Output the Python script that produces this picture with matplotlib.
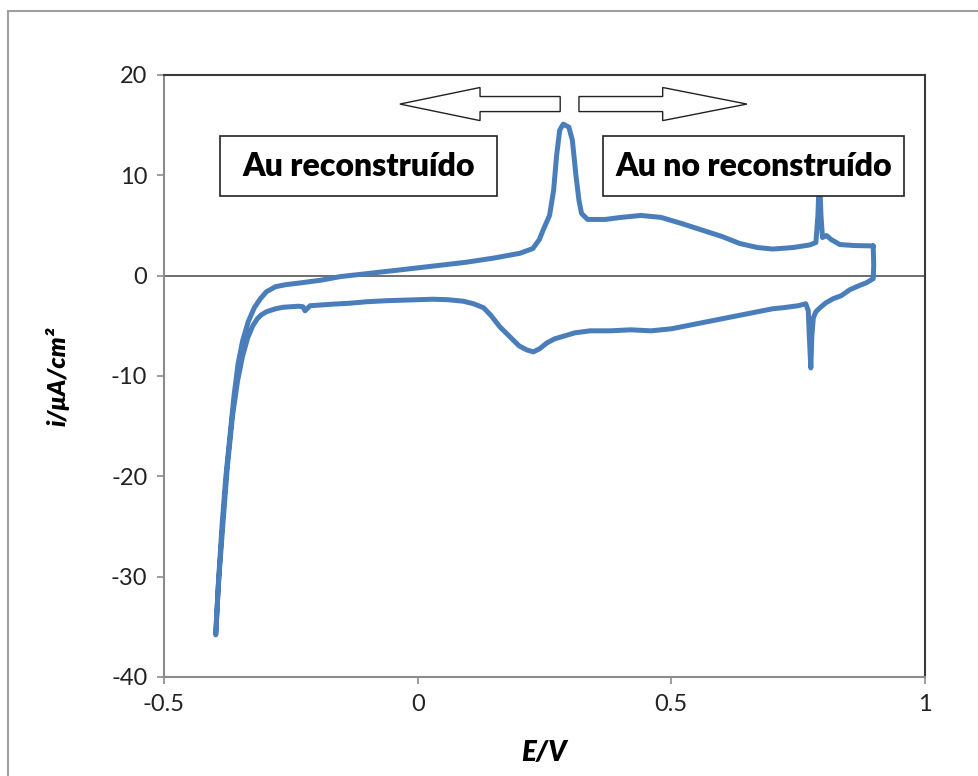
import matplotlib
matplotlib.use("Agg")
from matplotlib import pyplot as plt
from matplotlib.patches import FancyArrow, Rectangle
from matplotlib.lines import Line2D

# cathodic sweep, from the upper potential limit down to -0.4 V
e_cath = [0.898, 0.899, 0.898, 0.885, 0.87, 0.852, 0.835, 0.819, 0.805, 0.793,
          0.785, 0.780, 0.777, 0.775, 0.772, 0.770, 0.765, 0.75, 0.72, 0.70,
          0.66, 0.62, 0.58, 0.54, 0.50, 0.46, 0.42, 0.38, 0.34, 0.31,
          0.29, 0.27, 0.255, 0.24, 0.228, 0.215, 0.20, 0.18, 0.162, 0.145,
          0.13, 0.11, 0.09, 0.06, 0.03, 0.0, -0.03, -0.062, -0.10, -0.134,
          -0.17, -0.20, -0.212, -0.218, -0.222, -0.226, -0.235, -0.25, -0.265, -0.28,
          -0.298, -0.308, -0.316, -0.325, -0.335, -0.345, -0.355, -0.365, -0.375, -0.385,
          -0.393, -0.398]
i_cath = [2.96, 1.0, -0.3, -0.7, -1.0, -1.4, -2.0, -2.3, -2.7, -3.2,
          -3.6, -4.2, -6.0, -9.2, -6.0, -3.5, -2.8, -3.0, -3.2, -3.3,
          -3.7, -4.1, -4.5, -4.9, -5.3, -5.5, -5.4, -5.5, -5.5, -5.7,
          -6.0, -6.3, -6.7, -7.3, -7.6, -7.4, -7.0, -6.0, -5.1, -4.0,
          -3.2, -2.8, -2.55, -2.4, -2.35, -2.4, -2.45, -2.5, -2.6, -2.75,
          -2.85, -2.95, -3.0, -3.3, -3.5, -3.1, -3.05, -3.1, -3.15, -3.3,
          -3.6, -3.9, -4.3, -5.0, -6.2, -8.0, -10.5, -14.0, -19.0, -25.5,
          -31.0, -35.8]

# anodic sweep, back from -0.4 V to the upper limit
e_anod = [-0.398, -0.392, -0.385, -0.378, -0.371, -0.362, -0.354, -0.345, -0.334, -0.322,
          -0.31, -0.298, -0.28, -0.26, -0.232, -0.19, -0.153, -0.10, -0.035, 0.03,
          0.095, 0.15, 0.2017, 0.227, 0.24, 0.247, 0.26, 0.268, 0.274, 0.280,
          0.287, 0.298, 0.305, 0.312, 0.318, 0.323, 0.335, 0.37, 0.40, 0.44,
          0.48, 0.52, 0.557, 0.60, 0.635, 0.67, 0.70, 0.74, 0.773, 0.785,
          0.789, 0.792, 0.795, 0.798, 0.806, 0.815, 0.832, 0.86, 0.898]
i_anod = [-35.8, -30.0, -24.5, -20.0, -16.5, -12.0, -8.8, -6.5, -4.6, -3.2,
          -2.3, -1.6, -1.1, -0.9, -0.73, -0.45, -0.1, 0.2, 0.57, 0.95,
          1.33, 1.75, 2.23, 2.7, 3.6, 4.5, 6.0, 8.5, 12.0, 14.5,
          15.1, 14.8, 13.5, 10.0, 7.5, 6.2, 5.6, 5.6, 5.8, 6.0,
          5.8, 5.2, 4.6, 3.9, 3.2, 2.8, 2.65, 2.8, 3.06, 3.3,
          6.0, 10.2, 6.0, 3.8, 4.0, 3.6, 3.1, 3.0, 2.96]

x_ticks = [-0.5, 0, 0.5, 1]
x_labels = ['-0.5', '0', '0.5', '1']
y_ticks = [-40, -30, -20, -10, 0, 10, 20]

plt.rcParams['font.family'] = ['Lato', 'DejaVu Sans']
plt.rcParams['axes.unicode_minus'] = False

fig = plt.figure(figsize=(9.79, 7.76), dpi=100)
ax = fig.add_axes([0.1675, 0.1276, 0.7773, 0.7758])

ax.plot(e_cath + e_anod, i_cath + i_anod, color='#4a7ebb', lw=3.6,
        solid_joinstyle='round', solid_capstyle='round', zorder=3)
ax.axhline(0, color='#555555', lw=1.2, zorder=2)

ax.set_xlim(-0.5, 1)
ax.set_ylim(-40, 20)
ax.set_xticks(x_ticks)
ax.set_xticklabels(x_labels)
ax.set_yticks(y_ticks)
ax.tick_params(direction='out', length=5, width=1.2, color='#8c8c8c',
               labelsize=17, labelcolor='#222222', pad=7)
for side in ['left', 'bottom']:
    ax.spines[side].set_color('#8c8c8c')
    ax.spines[side].set_linewidth(1.5)
for side in ['top', 'right']:
    ax.spines[side].set_color('#3a3a3a')
    ax.spines[side].set_linewidth(1.5)

ax.set_xlabel('E/V', fontsize=20, fontweight='heavy', style='italic', labelpad=18)
ax.set_ylabel('i/μA/cm²', fontsize=18, fontweight='heavy', style='italic', labelpad=30)

# hollow block arrows
arrow_kw = dict(width=1.5, head_width=3.3, length_includes_head=True,
                facecolor='white', edgecolor='#222222', lw=1.0, zorder=4)
ax.add_patch(FancyArrow(0.281, 17.1, -0.316, 0, head_length=0.158, **arrow_kw))
ax.add_patch(FancyArrow(0.318, 17.1, 0.331, 0, head_length=0.166, **arrow_kw))

# labelled boxes
ax.add_patch(Rectangle((-0.390, 7.95), 0.546, 5.98, facecolor='white',
                       edgecolor='#222222', lw=1.2, zorder=4))
ax.text(-0.117, 10.9, 'Au reconstruído', fontsize=23, fontweight='heavy',
        ha='center', va='center', zorder=5)
ax.add_patch(Rectangle((0.365, 7.95), 0.594, 5.98, facecolor='white',
                       edgecolor='#222222', lw=1.2, zorder=4))
ax.text(0.662, 10.9, 'Au no reconstruído', fontsize=23, fontweight='heavy',
        ha='center', va='center', zorder=5)

# outer chart border (runs off the right and bottom edges)
fig.add_artist(Line2D([0.0082, 0.0082], [-0.1, 0.9858], color='#a0a0a0', lw=1.5))
fig.add_artist(Line2D([0.0082, 1.1], [0.9858, 0.9858], color='#a0a0a0', lw=1.5))

fig.savefig('out.png', dpi=100)
